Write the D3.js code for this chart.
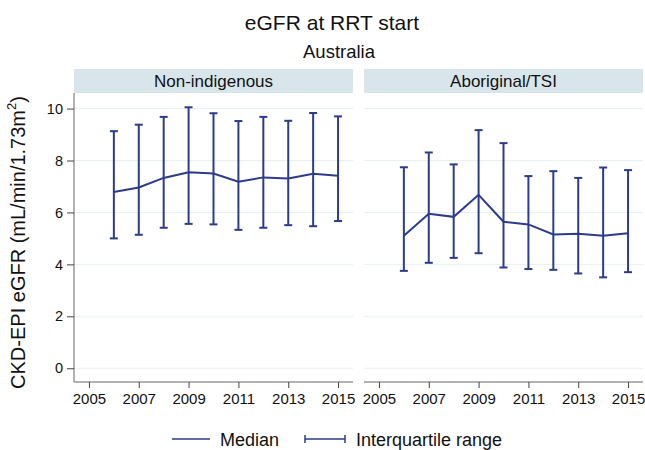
<!DOCTYPE html>
<html>
<head>
<meta charset="utf-8">
<script src="https://cdn.jsdelivr.net/npm/d3@7"></script>
<style>
  body { margin: 0; background: #fff; }
  text { font-family: "Liberation Sans", Arial, sans-serif; fill: #111; }
</style>
</head>
<body>
<div id="chart"></div>
<script>
        // Data
        const years = [2006, 2007, 2008, 2009, 2010, 2011, 2012, 2013, 2014, 2015];
        const groups = ["Non-indigenous", "Aboriginal/TSI"];
        const medianNonInd = [6.79, 6.96, 7.33, 7.55, 7.50, 7.18, 7.35, 7.31, 7.49, 7.41];
        const lowerNonInd  = [5.00, 5.14, 5.41, 5.56, 5.54, 5.33, 5.41, 5.51, 5.47, 5.67];
        const upperNonInd  = [9.13, 9.38, 9.68, 10.05, 9.82, 9.52, 9.68, 9.53, 9.83, 9.70];
        const medianAbo = [5.10, 5.95, 5.83, 6.68, 5.64, 5.54, 5.15, 5.18, 5.10, 5.20];
        const lowerAbo  = [3.75, 4.06, 4.25, 4.43, 3.88, 3.82, 3.79, 3.65, 3.50, 3.70];
        const upperAbo  = [7.74, 8.31, 7.85, 9.17, 8.67, 7.40, 7.59, 7.33, 7.73, 7.63];
        const xTicks = [2005, 2007, 2009, 2011, 2013, 2015];
        const yTicks = [0, 2, 4, 6, 8, 10];

        const panels = [
            { name: groups[0], median: medianNonInd, lower: lowerNonInd, upper: upperNonInd, x0: 74, x1: 353 },
            { name: groups[1], median: medianAbo, lower: lowerAbo, upper: upperAbo, x0: 364, x1: 643 }
        ];

        const width = 645;
        const height = 450;
        const color = "#2b3b8e";
        const plotTop = 93, plotBottom = 382;
        const font = "Liberation Sans, Arial, sans-serif";

        const svg = d3.select("#chart")
            .append("svg")
            .attr("width", width)
            .attr("height", height);

        const y = d3.scaleLinear().domain([-0.53, 10.6]).range([plotBottom, plotTop]);

        // Titles
        svg.append("text").attr("x", 332).attr("y", 30).attr("text-anchor", "middle")
            .attr("font-size", "21px").text("eGFR at RRT start");
        svg.append("text").attr("x", 339).attr("y", 58).attr("text-anchor", "middle")
            .attr("font-size", "18.5px").text("Australia");

        // Y axis title
        const yt = svg.append("text")
            .attr("transform", `translate(25,${(plotTop + plotBottom) / 2 + 5}) rotate(-90)`)
            .attr("text-anchor", "middle")
            .attr("font-size", "20px");
        yt.append("tspan").text("CKD-EPI eGFR (mL/min/1.73m");
        yt.append("tspan").attr("font-size", "13px").attr("dy", "-9").text("2");
        yt.append("tspan").attr("dy", "9").text(")");

        panels.forEach((p, i) => {
            const x = d3.scaleLinear().domain([2004.4, 2015.6]).range([p.x0, p.x1]);
            const g = svg.append("g");

            // Strip
            g.append("rect").attr("x", p.x0).attr("y", 69).attr("width", p.x1 - p.x0).attr("height", 24)
                .attr("fill", "#d8e6eb");
            g.append("text").attr("x", (p.x0 + p.x1) / 2).attr("y", 86.5).attr("text-anchor", "middle")
                .attr("font-size", "17px").text(p.name);

            // Gridlines
            g.selectAll(".grid").data(yTicks).enter().append("line")
                .attr("x1", p.x0).attr("x2", p.x1)
                .attr("y1", d => y(d)).attr("y2", d => y(d))
                .attr("stroke", "#e8f0f2").attr("stroke-width", 1);

            // X axis
            const xa = g.append("g").attr("transform", `translate(0,${plotBottom})`)
                .call(d3.axisBottom(x).tickValues(xTicks).tickFormat(d3.format("d")).tickSize(6).tickPadding(5));
            xa.select(".domain").attr("stroke", "#666").attr("d", `M${p.x0},0H${p.x1}`);
            xa.selectAll(".tick line").attr("stroke", "#444");
            xa.selectAll("text").attr("font-size", "15px").attr("font-family", font).attr("fill", "#111");

            if (i === 0) {
                const ya = g.append("g").attr("transform", `translate(${p.x0},0)`)
                    .call(d3.axisLeft(y).tickValues(yTicks).tickSize(7).tickPadding(4));
                ya.select(".domain").attr("stroke", "#666").attr("d", `M0,${plotTop}V${plotBottom}`);
                ya.selectAll(".tick line").attr("stroke", "#444");
                ya.selectAll("text").attr("font-size", "14.5px").attr("font-family", font).attr("fill", "#111");
            }

            const rows = years.map((yr, k) => ({ yr, m: p.median[k], lo: p.lower[k], hi: p.upper[k] }));

            // IQR bars
            g.selectAll(".bar").data(rows).enter().append("line")
                .attr("x1", d => x(d.yr)).attr("x2", d => x(d.yr))
                .attr("y1", d => y(d.lo)).attr("y2", d => y(d.hi))
                .attr("stroke", color).attr("stroke-width", 2);
            ["lo", "hi"].forEach(k => {
                g.selectAll(".cap" + k).data(rows).enter().append("line")
                    .attr("x1", d => x(d.yr) - 4).attr("x2", d => x(d.yr) + 4)
                    .attr("y1", d => y(d[k])).attr("y2", d => y(d[k]))
                    .attr("stroke", color).attr("stroke-width", 2);
            });

            // Median line
            g.append("path").datum(rows)
                .attr("d", d3.line().x(d => x(d.yr)).y(d => y(d.m)))
                .attr("fill", "none").attr("stroke", color).attr("stroke-width", 2);
        });

        // Legend
        const lg = svg.append("g");
        lg.append("line").attr("x1", 172).attr("x2", 210).attr("y1", 439).attr("y2", 439)
            .attr("stroke", color).attr("stroke-width", 1.5);
        lg.append("text").attr("x", 220).attr("y", 446).attr("font-size", "18px").text("Median");
        lg.append("line").attr("x1", 305).attr("x2", 345).attr("y1", 439).attr("y2", 439)
            .attr("stroke", color).attr("stroke-width", 1.5);
        lg.append("line").attr("x1", 345).attr("x2", 345).attr("y1", 435).attr("y2", 443)
            .attr("stroke", color).attr("stroke-width", 1.5);
        lg.append("line").attr("x1", 305).attr("x2", 305).attr("y1", 435).attr("y2", 443)
            .attr("stroke", color).attr("stroke-width", 1.5);
        lg.append("text").attr("x", 356).attr("y", 446).attr("font-size", "18px").text("Interquartile range");
</script>
</body>
</html>
